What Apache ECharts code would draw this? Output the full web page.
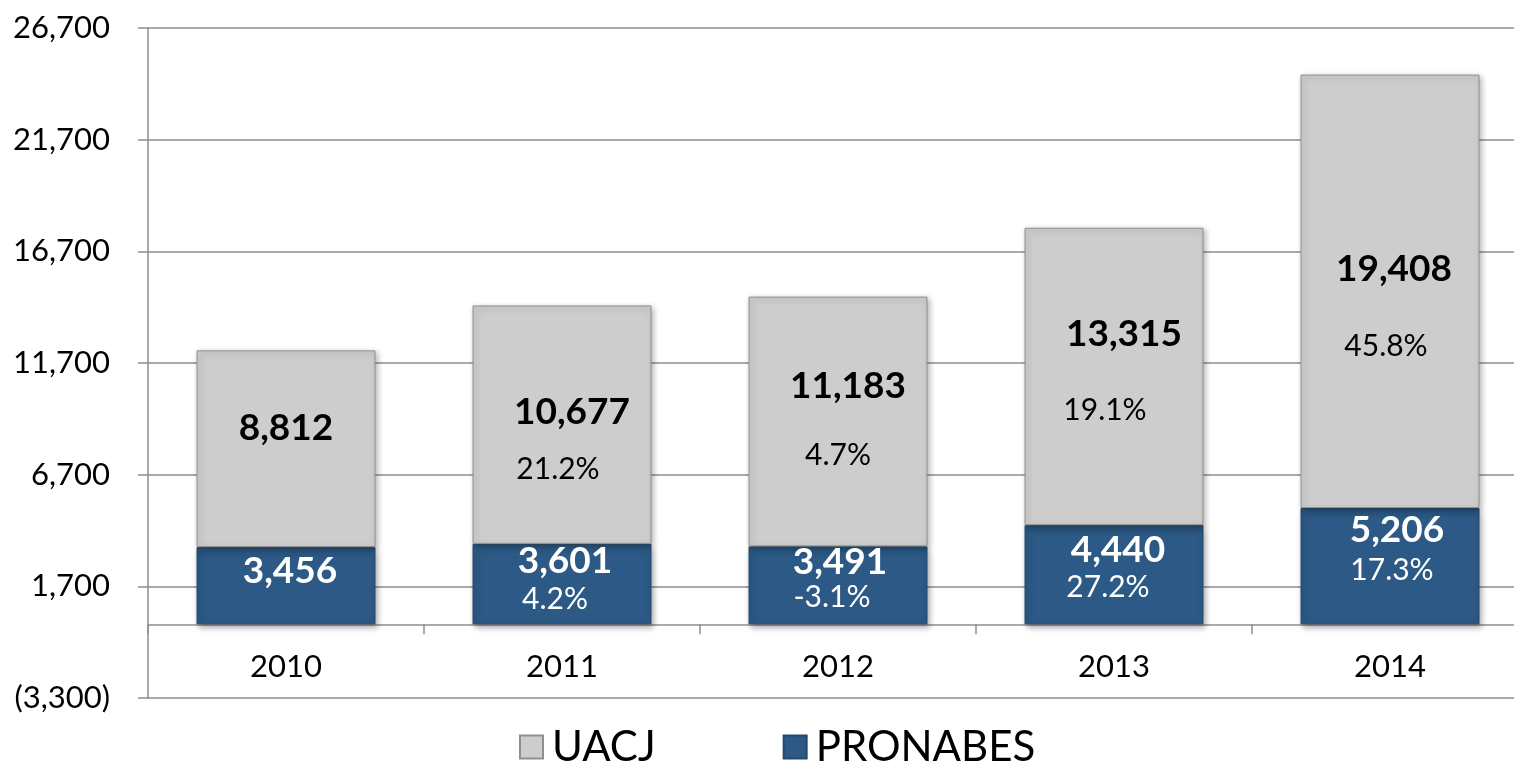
<!DOCTYPE html>
<html>
<head>
<meta charset="utf-8">
<script src="https://cdn.jsdelivr.net/npm/echarts@6/dist/echarts.min.js"></script>
<style>
  html, body { margin: 0; padding: 0; background: #fff; }
  #main { width: 1514px; height: 763px; }
</style>
</head>
<body>
<div id="main"></div>
<script>
// datos
var years = ["2010", "2011", "2012", "2013", "2014"];
var uacj = [8812, 10677, 11183, 13315, 19408];
var pronabes = [3456, 3601, 3491, 4440, 5206];
var uacjPct = [null, "21.2%", "4.7%", "19.1%", "45.8%"];
var pronabesPct = [null, "4.2%", "-3.1%", "27.2%", "17.3%"];

// label placement inside each segment: [dx, dy, pct lineHeight, pct shift left]
var uacjLbl = [[0, -21, 0, 0], [10, 25, 76, 14], [10, 14, 98, 10], [10, 14, 112, 19], [4, 35, 114, 8]];
var proLbl = [[4, -15, 0, 0], [3, -5, 36, 10], [2, -8, 30, 8], [4, -7, 36, 10], [7, -16, 40, 5]];

var FONT = "Lato";

function fmt(v) {
  return Math.abs(v).toLocaleString("en-US");
}

function buildData(values, pcts, lbl, color) {
  return values.map(function (v, i) {
    var l = lbl[i];
    var txt = "{v|" + fmt(v) + "}";
    if (pcts[i]) txt += "\n{p|" + pcts[i] + "}";
    return {
      value: v,
      label: {
        show: true,
        position: "inside",
        offset: [l[0], l[1]],
        formatter: txt,
        rich: {
          v: { fontFamily: FONT, fontWeight: "bold", fontSize: 37, lineHeight: 40, color: color },
          p: {
            fontFamily: FONT, fontSize: 30, lineHeight: l[2] || 30, color: color,
            padding: [0, 2 * l[3], 0, 0]
          }
        }
      }
    };
  });
}

var chart = echarts.init(document.getElementById("main"));

var option = {
  animation: false,
  grid: { left: 148, width: 1380, top: 28, bottom: 65, outerBoundsMode: "none" },
  legend: {
    top: 721,
    left: 514,
    data: ["UACJ", "PRONABES"],
    icon: "rect",
    itemWidth: 23,
    itemHeight: 23,
    itemGap: 127,
    textStyle: { fontFamily: FONT, fontSize: 42, color: "#000", padding: [0, 0, 0, 4] }
  },
  xAxis: {
    type: "category",
    data: years,
    axisLine: { onZero: true, lineStyle: { color: "#8e8e8e", width: 1.5 } },
    axisTick: { show: true, length: 10, lineStyle: { color: "#8e8e8e", width: 1.5 } },
    axisLabel: { margin: -47, fontFamily: FONT, fontSize: 31, color: "#000" }
  },
  yAxis: {
    type: "value",
    min: -3300,
    max: 26700,
    interval: 5000,
    axisLine: { show: true, lineStyle: { color: "#8e8e8e", width: 1.5 } },
    axisTick: { show: true, length: 10, lineStyle: { color: "#8e8e8e", width: 1.5 } },
    splitLine: { lineStyle: { color: "#8e8e8e", width: 1.5 } },
    axisLabel: {
      margin: 38,
      fontFamily: FONT,
      fontSize: 31,
      color: "#000",
      formatter: function (v) {
        return v < 0 ? "(" + fmt(v) + ")" : fmt(v);
      }
    }
  },
  series: [
    {
      name: "PRONABES",
      type: "bar",
      stack: "total",
      barWidth: 179,
      itemStyle: {
        color: "#2c5985",
        borderColor: "#24496e",
        borderWidth: 1,
        shadowColor: "rgba(0,0,0,0.35)",
        shadowBlur: 6,
        shadowOffsetX: 2,
        shadowOffsetY: 3
      },
      data: buildData(pronabes, pronabesPct, proLbl, "#fff")
    },
    {
      name: "UACJ",
      type: "bar",
      stack: "total",
      barWidth: 179,
      itemStyle: {
        color: "#cdcdcd",
        borderColor: "#8f8f8f",
        borderWidth: 1,
        shadowColor: "rgba(0,0,0,0.3)",
        shadowBlur: 6,
        shadowOffsetX: 2,
        shadowOffsetY: 2
      },
      data: buildData(uacj, uacjPct, uacjLbl, "#000")
    }
  ]
};

chart.setOption(option);
</script>
</body>
</html>
